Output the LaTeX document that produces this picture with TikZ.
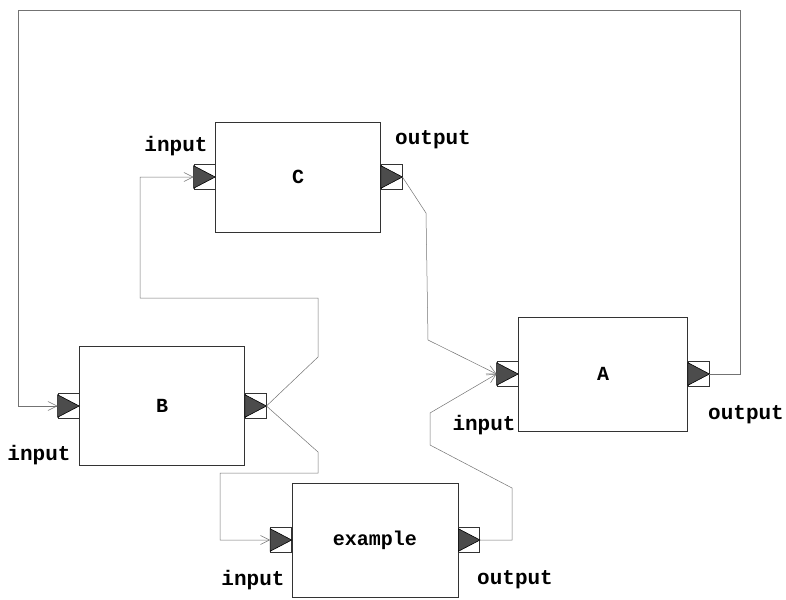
\documentclass[tikz,border=0pt]{standalone}
\usepackage{fontspec}
\setmonofont{Liberation Mono}
\usetikzlibrary{arrows.meta}

\begin{document}
\begin{tikzpicture}[x=1pt,y=-1pt]
\path[use as bounding box] (0,0) rectangle (786,599);
\tikzstyle{block}=[draw=black!80, line width=0.7pt, minimum width=165pt, minimum height=114pt, inner sep=0pt, font=\ttfamily\bfseries\fontsize{20}{24}\selectfont]
\tikzstyle{port}=[draw=black!80, line width=0.6pt, minimum width=21pt, minimum height=25pt, inner sep=0pt]
\tikzstyle{lbl}=[font=\ttfamily\bfseries\fontsize{21}{24}\selectfont, inner sep=0pt]
\tikzstyle{wire}=[draw=black!55, line width=0.5pt, -{Straight Barb[length=9pt,width=9pt]}]

% blocks
\node[block, minimum height=110pt] (C) at (298,177) {C};
\node[block, minimum height=119pt] (B) at (162,406) {B};
\node[block, minimum width=166pt] (ex) at (375,540) {example};
\node[block, minimum width=169pt] (A) at (603,374) {A};

% ports
\node[port, anchor=east] (Cin) at (C.west) {};
\node[port, anchor=west] (Cout) at (C.east) {};
\node[port, anchor=east] (Bin) at (B.west) {};
\node[port, anchor=west] (Bout) at (B.east) {};
\node[port, anchor=east] (exin) at (ex.west) {};
\node[port, anchor=west] (exout) at (ex.east) {};
\node[port, anchor=east] (Ain) at (A.west) {};
\node[port, anchor=west] (Aout) at (A.east) {};
\foreach \p in {Cin,Cout,Bin,Bout,exin,exout,Ain,Aout}
  \filldraw[fill=black!70, draw=black, line width=0.6pt, line join=round]
    ([yshift=-1.5pt]\p.north west) -- (\p.east) -- ([yshift=1.5pt]\p.south west) -- cycle;

% port labels
\node[lbl] (Cinl) at (176,146) {input};
\node[lbl] (Coutl) at (433,140) {output};
\node[lbl] (Binl) at (39,455) {input};
\node[lbl] (exinl) at (253,580) {input};
\node[lbl] (exoutl) at (515,580) {output};
\node[lbl] (Ainl) at (484,425) {input};
\node[lbl] (Aoutl) at (746,415) {output};

% wires
\draw[wire] (Aout.east) -- (740,374) -- (740,10) -- (18,10) -- (18,406) -- (Bin.west);
\draw[wire] (Cout.east) -- (426,213) -- (428,340) -- (Ain.west);
\draw[wire] (Bout.east) -- (318,357) -- (318,298) -- (140,298) -- (140,177) -- (Cin.west);
\draw[wire] (Bout.east) -- (318,452) -- (318,473) -- (220,473) -- (220,540) -- (exin.west);
\draw[wire] (exout.east) -- (512,540) -- (512,488) -- (430,445) -- (430,413) -- (Ain.west);
\end{tikzpicture}
\end{document}
